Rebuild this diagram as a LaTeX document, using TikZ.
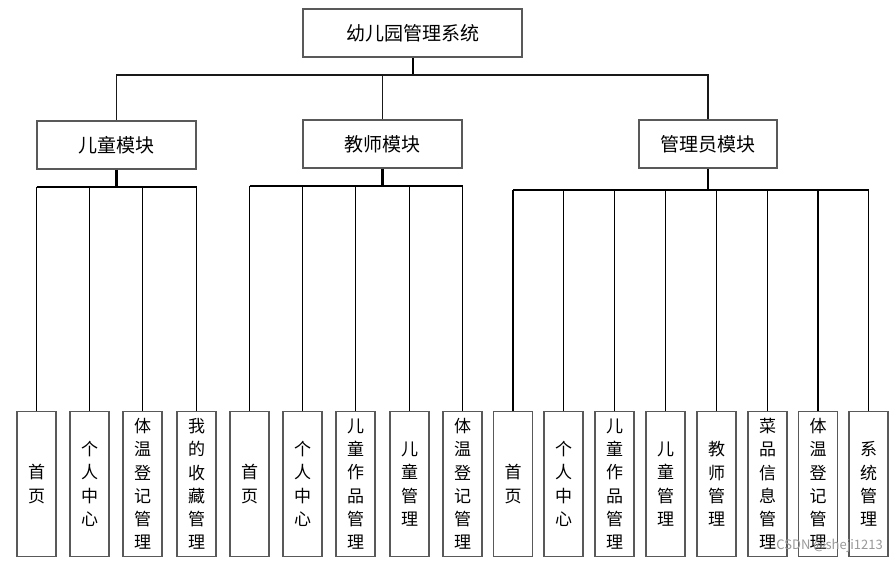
\documentclass[tikz,border=0pt]{standalone}
\usepackage{fontspec}
\setmainfont{Noto Sans CJK SC}
\begin{document}
\begin{tikzpicture}[x=1pt,y=-1pt,
  box/.style={draw=black!65,line width=1.1pt,fill=white,inner sep=0pt},
  topbox/.style={box,minimum width=219pt,minimum height=48pt,font=\fontsize{19}{23}\selectfont},
  midbox/.style={box,minimum height=48pt,font=\fontsize{19}{23}\selectfont},
  leafbox/.style={box,minimum width=39pt,minimum height=145pt,align=center,font=\fontsize{17}{23.3}\selectfont},
  thinline/.style={draw=black!90,line width=1.4pt},
  stemline/.style={draw=black,line width=2.4pt},
  busline/.style={draw=black,line width=1.9pt},
  leafline/.style={draw=black,line width=1.8pt}]
\useasboundingbox (0,0) rectangle (896,564);
% root
\node[topbox] (root) at (412.5,33) {幼儿园管理系统};
% modules
\node[midbox,minimum width=159pt] (m1) at (116.5,145) {儿童模块};
\node[midbox,minimum width=159pt] (m2) at (382.5,144) {教师模块};
\node[midbox,minimum width=138pt] (m3) at (708,144) {管理员模块};
% top bus
\coordinate (b0) at (412.5,75);
\draw[stemline,line width=2pt] (root.south) -- (root.south|-b0);
\draw[thinline] (m1.north) -- (m1.north|-b0) -- (m3.north|-b0) -- (m3.north);
\draw[thinline] (m2.north) -- (m2.north|-b0);
% leaves
\foreach \n/\x/\t in {
  l1/36.5/{首\\页},
  l2/89.5/{个\\人\\中\\心},
  l3/142.5/{体\\温\\登\\记\\管\\理},
  l4/196.5/{我\\的\\收\\藏\\管\\理},
  l5/249.5/{首\\页},
  l6/302.5/{个\\人\\中\\心},
  l7/355.5/{儿\\童\\作\\品\\管\\理},
  l8/409.5/{儿\\童\\管\\理},
  l9/462.5/{体\\温\\登\\记\\管\\理},
  l10/513/{首\\页},
  l11/563.5/{个\\人\\中\\心},
  l12/614.5/{儿\\童\\作\\品\\管\\理},
  l13/665.5/{儿\\童\\管\\理},
  l14/716.5/{教\\师\\管\\理},
  l15/767.5/{菜\\品\\信\\息\\管\\理},
  l16/818/{体\\温\\登\\记\\管\\理},
  l17/868.5/{系\\统\\管\\理}}
  {\node[leafbox] (\n) at (\x,484) {\t};}
% module 1 bus
\coordinate (b1) at (116.5,187);
\draw[stemline] (m1.south) -- (b1);
\draw[busline] (l1.north|-b1) -- (l4.north|-b1);
\foreach \n in {l1,l2,l3,l4} \draw[leafline] (\n.north|-b1) -- (\n.north);
% module 2 bus
\coordinate (b2) at (382.5,186);
\draw[stemline] (m2.south) -- (b2);
\draw[busline] (l5.north|-b2) -- (l9.north|-b2);
\foreach \n in {l5,l6,l7,l8,l9} \draw[leafline] (\n.north|-b2) -- (\n.north);
% module 3 bus
\coordinate (b3) at (708,190);
\draw[stemline] (m3.south) -- (b3);
\draw[busline] (l10.north|-b3) -- (l17.north|-b3);
\foreach \n in {l10,l11,l12,l13,l14,l15,l16,l17} \draw[leafline] (\n.north|-b3) -- (\n.north);
% watermark
\node[anchor=east,text=black!40,font=\fontsize{13}{15}\selectfont,inner sep=0pt] (wm) at (883,546) {CSDN @sheji1213};
\end{tikzpicture}
\end{document}
